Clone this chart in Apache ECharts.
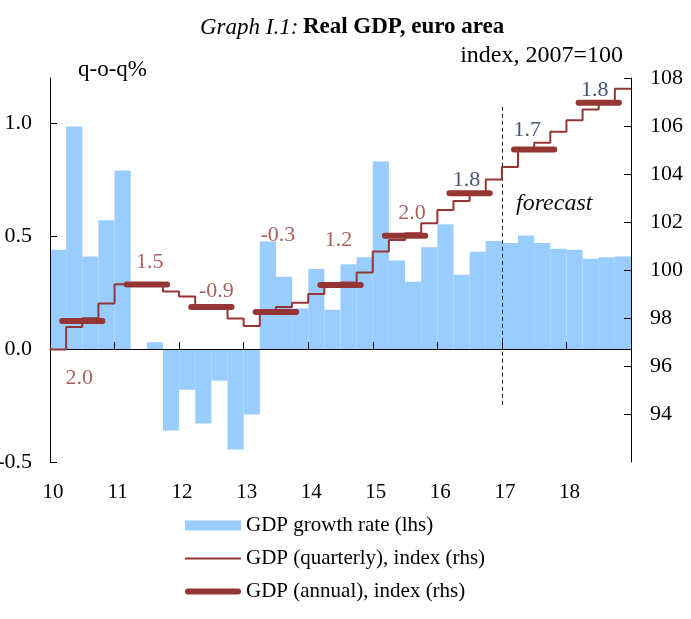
<!DOCTYPE html>
<html>
<head>
<meta charset="utf-8">
<script src="https://cdn.jsdelivr.net/npm/echarts@6/dist/echarts.min.js"></script>
<style>
  html, body { margin: 0; padding: 0; background: #fff; }
  #chart { width: 691px; height: 619px; }
</style>
</head>
<body>
<div id="chart"></div>
<script>
// quarters 2010Q1 .. 2018Q4
const quarters = [];
for (let y = 2010; y <= 2018; y++) {
  for (let q = 1; q <= 4; q++) quarters.push(y + 'Q' + q);
}
const yearLabels = ['10', '11', '12', '13', '14', '15', '16', '17', '18'];

// q-o-q growth, %, lhs
const growthRate = [
  0.44, 0.985, 0.41, 0.57,
  0.79, 0.0, 0.03, -0.36,
  -0.18, -0.33, -0.14, -0.445,
  -0.29, 0.476, 0.32, 0.18,
  0.354, 0.174, 0.375, 0.406,
  0.83, 0.392, 0.298, 0.451,
  0.553, 0.329, 0.431, 0.478,
  0.469, 0.503, 0.47, 0.444,
  0.44, 0.40, 0.406, 0.41
];

// quarterly index 2007=100, rhs
const quarterlyIndex = [
  96.69, 97.62, 97.99, 98.60,
  99.41, 99.42, 99.45, 99.10,
  98.90, 98.48, 98.42, 97.98,
  97.67, 98.25, 98.46, 98.64,
  99.00, 99.34, 99.48, 99.90,
  100.77, 101.25, 101.53, 101.95,
  102.50, 102.87, 103.20, 103.77,
  104.29, 104.99, 105.30, 105.76,
  106.24, 106.69, 107.00, 107.55
];

// annual index 2007=100, rhs, and annual growth labels
const annualIndex = [97.87, 99.40, 98.46, 98.25, 99.37, 101.43, 103.20, 105.02, 106.97];
const annualGrowth = ['2.0', '1.5', '-0.9', '-0.3', '1.2', '2.0', '1.8', '1.7', '1.8'];

// label placement (px) relative to the middle of each annual bar
const labelOffsets = [[-3, 57], [3, -22], [5, -16], [2, -77], [-2, -45], [7, -22], [-3, -13], [-7, -19], [-4, -13]];

const FONT = 'Liberation Serif';
const RED = '#963634';
const BLUE = '#99ccff';
const LABEL_RED = '#953735';
const LABEL_BLUE = '#10284f';

const chart = echarts.init(document.getElementById('chart'));

const quarterlyData = quarterlyIndex.map((v, i) => [i, v]);
quarterlyData.push([quarterlyIndex.length, quarterlyIndex[quarterlyIndex.length - 1]]);

const annualData = [];
annualIndex.forEach((v, k) => {
  annualData.push([4 * k + 0.75, v]);
  annualData.push([4 * k + 3.25, v]);
  annualData.push([4 * k + 3.5, '-']);
});

const labelData = annualIndex.map((v, k) => ({
  value: [4 * k + 2, v],
  label: {
    formatter: annualGrowth[k],
    offset: labelOffsets[k],
    color: k >= 6 ? LABEL_BLUE : LABEL_RED
  }
}));

const tickStyle = { color: '#000', width: 1 };

const option = {
  animation: false,
  textStyle: { fontFamily: FONT },
  title: {
    text: '{i|Graph I.1:} {b|Real GDP, euro area}',
    left: 195,
    top: 11,
    textStyle: {
      rich: {
        i: { fontFamily: FONT, fontStyle: 'italic', fontWeight: 'normal', fontSize: 23, color: '#000' },
        b: { fontFamily: FONT, fontWeight: 'bold', fontSize: 23, color: '#000' }
      }
    }
  },
  legend: {
    orient: 'vertical',
    left: 180,
    top: 510,
    itemWidth: 56,
    itemHeight: 10,
    itemGap: 12,
    symbolKeepAspect: true,
    textStyle: { fontFamily: FONT, fontSize: 21, color: '#000' },
    data: [
      { name: 'GDP growth rate (lhs)', icon: 'rect' },
      { name: 'GDP (quarterly), index (rhs)', icon: 'path://M0,0H56V2H0Z' },
      { name: 'GDP (annual), index (rhs)', icon: 'path://M3,0H53A3,3,0,0,1,53,6H3A3,3,0,0,1,3,0Z' }
    ]
  },
  grid: { left: 50, right: 60, top: 78, bottom: 157, outerBoundsMode: 'none' },
  xAxis: [
    {
      // bars only
      type: 'category',
      data: quarters,
      boundaryGap: true,
      axisLine: { show: false },
      axisTick: { show: false },
      axisLabel: { show: false },
      splitLine: { show: false }
    },
    {
      // zero line with year ticks, used by the index lines
      type: 'value',
      min: 0,
      max: 36,
      z: 5,
      axisLine: { show: true, onZero: true, onZeroAxisIndex: 0, lineStyle: { color: '#000', width: 1 } },
      axisTick: { show: true, inside: false, length: 7, customValues: [4, 8, 12, 16, 20, 24, 28, 32], lineStyle: tickStyle },
      axisLabel: { show: false },
      splitLine: { show: false }
    },
    {
      // year labels along the bottom
      type: 'value',
      min: 0,
      max: 36,
      position: 'bottom',
      axisLine: { show: false, onZero: false },
      axisTick: { show: false },
      splitLine: { show: false },
      axisLabel: {
        customValues: [0, 4, 8, 12, 16, 20, 24, 28, 32],
        formatter: v => yearLabels[v / 4],
        margin: 20,
        padding: [0, 0, 0, 6],
        fontFamily: FONT,
        fontSize: 21,
        color: '#000'
      }
    }
  ],
  yAxis: [
    {
      type: 'value',
      min: -0.5,
      max: 1.2,
      interval: 0.5,
      z: 5,
      axisLine: { show: true, onZero: false, lineStyle: { color: '#000' } },
      axisTick: { show: true, inside: true, length: 7, customValues: [-0.5, 0, 0.5, 1.0], lineStyle: tickStyle },
      axisLabel: {
        customValues: [-0.5, 0, 0.5, 1.0],
        formatter: v => v.toFixed(1),
        margin: 18,
        fontFamily: FONT,
        fontSize: 22,
        color: '#000'
      },
      splitLine: { show: false }
    },
    {
      type: 'value',
      position: 'right',
      min: 92,
      max: 108,
      interval: 2,
      z: 5,
      axisLine: { show: true, onZero: false, lineStyle: { color: '#000' } },
      axisTick: { show: true, inside: true, length: 7, lineStyle: tickStyle },
      axisLabel: { showMinLabel: false, margin: 19, fontFamily: FONT, fontSize: 22, color: '#000' },
      splitLine: { show: false }
    }
  ],
  graphic: [
    {
      type: 'text',
      left: 78,
      top: 58,
      style: { text: 'q-o-q%', fontFamily: FONT, fontSize: 23, fill: '#000' }
    },
    {
      type: 'text',
      right: 68,
      top: 44,
      style: { text: 'index, 2007=100', fontFamily: FONT, fontSize: 24, fill: '#000' }
    },
    {
      type: 'text',
      left: 516,
      top: 192,
      style: { text: 'forecast', fontFamily: FONT, fontStyle: 'italic', fontSize: 24, fill: '#111' }
    }
  ],
  series: [
    {
      name: 'GDP growth rate (lhs)',
      type: 'bar',
      xAxisIndex: 0,
      yAxisIndex: 0,
      barCategoryGap: '0%',
      itemStyle: { color: BLUE },
      data: growthRate,
      z: 1,
      markLine: {
        silent: true,
        symbol: 'none',
        label: { show: false },
        lineStyle: { color: '#000', type: 'solid', width: 1 },
        data: [{ yAxis: 0 }]
      }
    },
    {
      name: 'GDP (quarterly), index (rhs)',
      type: 'line',
      xAxisIndex: 1,
      yAxisIndex: 1,
      step: 'end',
      symbol: 'none',
      lineStyle: { color: RED, width: 2 },
      itemStyle: { color: RED },
      data: quarterlyData,
      z: 6,
      markLine: {
        silent: true,
        symbol: 'none',
        label: { show: false },
        lineStyle: { color: '#222', type: [4, 3], width: 1 },
        data: [[{ coord: [28, 106.8] }, { coord: [28, 94.3] }]]
      }
    },
    {
      name: 'GDP (annual), index (rhs)',
      type: 'line',
      xAxisIndex: 1,
      yAxisIndex: 1,
      symbol: 'none',
      connectNulls: false,
      lineStyle: { color: RED, width: 6, cap: 'round' },
      itemStyle: { color: RED },
      data: annualData,
      z: 7
    },
    {
      name: 'annual growth',
      type: 'scatter',
      xAxisIndex: 1,
      yAxisIndex: 1,
      symbolSize: 0,
      silent: true,
      label: { show: true, position: 'inside', fontFamily: FONT, fontSize: 22, textBorderWidth: 0 },
      data: labelData,
      z: 8
    }
  ]
};

chart.setOption(option);
</script>
</body>
</html>
